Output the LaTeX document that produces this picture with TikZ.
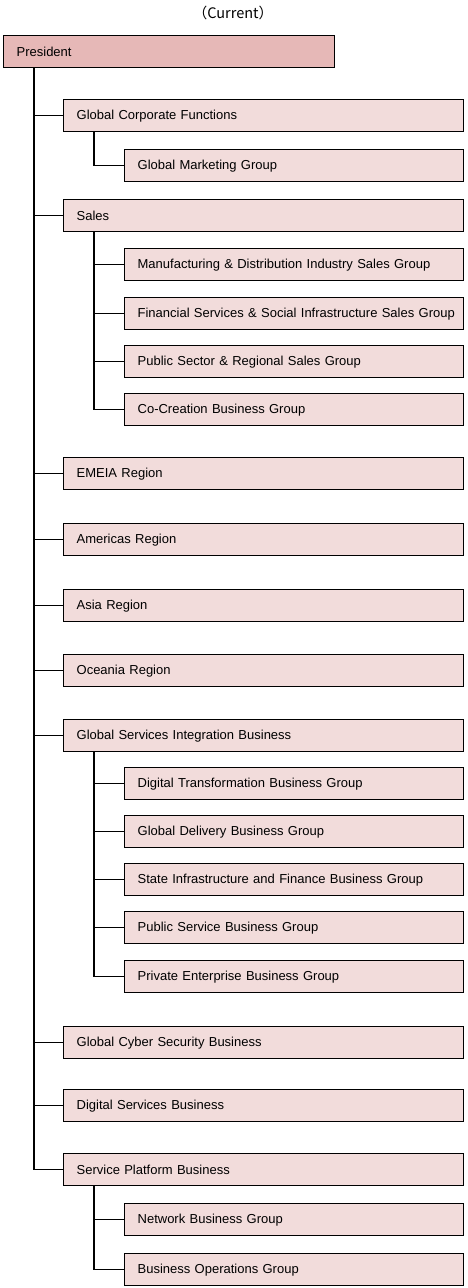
\documentclass[tikz,border=0pt]{standalone}
\usepackage{fontspec}
\setmainfont{Liberation Sans}
\newfontfamily\cjk{Noto Sans CJK JP}
\definecolor{presfill}{HTML}{E6B8B7}
\definecolor{boxfill}{HTML}{F2DCDB}
\begin{document}
\begin{tikzpicture}[x=1pt,y=-1pt,
  every node/.style={font=\fontsize{13}{15}\selectfont},
  orgbox/.style={draw=black, line width=1.3pt, fill=boxfill, rectangle, anchor=north west,
    inner xsep=13pt, inner ysep=0pt, minimum height=32pt, align=left},
  lvlone/.style={orgbox, text width=374pt},
  lvltwo/.style={orgbox, text width=313pt},
  link/.style={draw=black, line width=1.3pt}]
\useasboundingbox (0,0) rectangle (467,1288);
\node[font=\cjk\fontsize{14.5}{16}\selectfont] (title) at (233,13) {（Current）};
\node[orgbox, fill=presfill, text width=305pt] (pres) at (3,35) {President};

\node[lvlone] (gcf) at (63,99) {Global Corporate Functions};
\node[lvltwo] (gmg) at (124,149) {Global Marketing Group};
\node[lvlone] (sales) at (63,199) {Sales};
\node[lvltwo] (mdi) at (124,248) {Manufacturing \& Distribution Industry Sales Group};
\node[lvltwo] (fss) at (124,297) {\mbox{Financial Services \& Social Infrastructure Sales Group}};
\node[lvltwo] (psr) at (124,345) {Public Sector \& Regional Sales Group};
\node[lvltwo] (ccb) at (124,393) {Co-Creation Business Group};
\node[lvlone] (emeia) at (63,457) {EMEIA Region};
\node[lvlone] (amer) at (63,523) {Americas Region};
\node[lvlone] (asia) at (63,589) {Asia Region};
\node[lvlone] (ocea) at (63,654) {Oceania Region};
\node[lvlone] (gsib) at (63,719) {Global Services Integration Business};
\node[lvltwo] (dtbg) at (124,767) {Digital Transformation Business Group};
\node[lvltwo] (gdbg) at (124,815) {Global Delivery Business Group};
\node[lvltwo] (sifb) at (124,863) {State Infrastructure and Finance Business Group};
\node[lvltwo] (psbg) at (124,911) {Public Service Business Group};
\node[lvltwo] (pebg) at (124,960) {Private Enterprise Business Group};
\node[lvlone] (gcsb) at (63,1026) {Global Cyber Security Business};
\node[lvlone] (dsb) at (63,1089) {Digital Services Business};
\node[lvlone] (spb) at (63,1153) {Service Platform Business};
\node[lvltwo] (nbg) at (124,1203) {Network Business Group};
\node[lvltwo] (bog) at (124,1253) {Business Operations Group};

\coordinate (t0) at ([xshift=31pt]pres.south west);
\foreach \n in {gcf,sales,emeia,amer,asia,ocea,gsib,gcsb,dsb,spb}
  \draw[link] (t0) |- (\n.west);
\coordinate (t1) at ([xshift=31pt]gcf.south west);
\draw[link] (t1) |- (gmg.west);
\coordinate (t2) at ([xshift=31pt]sales.south west);
\foreach \n in {mdi,fss,psr,ccb}
  \draw[link] (t2) |- (\n.west);
\coordinate (t3) at ([xshift=31pt]gsib.south west);
\foreach \n in {dtbg,gdbg,sifb,psbg,pebg}
  \draw[link] (t3) |- (\n.west);
\coordinate (t4) at ([xshift=31pt]spb.south west);
\foreach \n in {nbg,bog}
  \draw[link] (t4) |- (\n.west);
\end{tikzpicture}
\end{document}
